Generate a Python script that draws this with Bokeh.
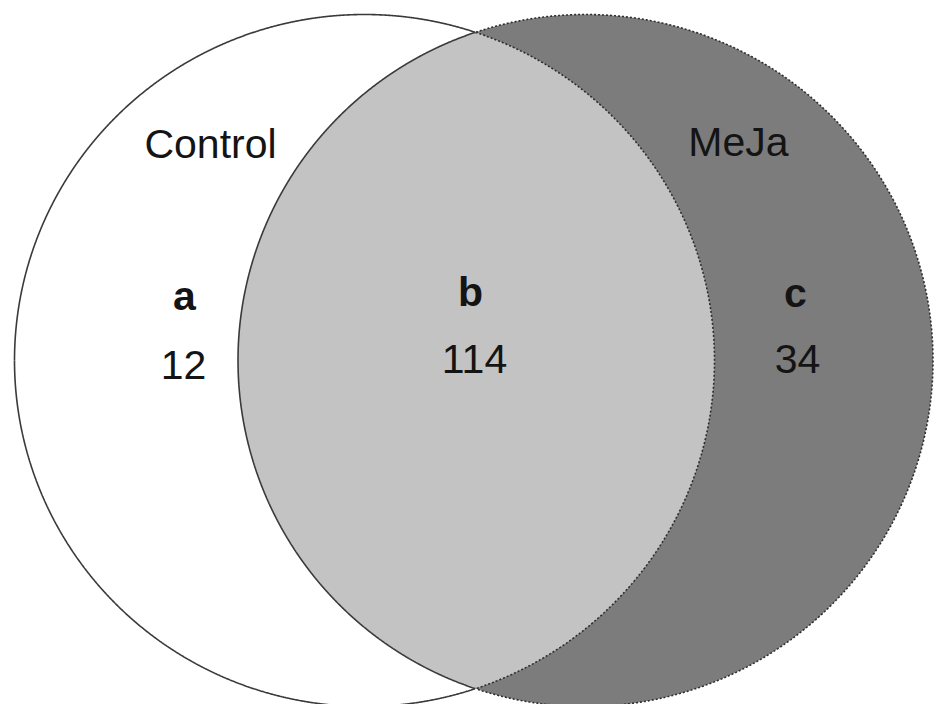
import numpy as np
from bokeh.plotting import figure
from bokeh.models import Range1d
from bokeh.core.properties import value
from bokeh.embed import file_html
from bokeh.resources import INLINE

# ---- data ----
set_names = ["Control", "MeJa"]
region_labels = ["a", "b", "c"]
region_counts = [12, 114, 34]

# ---- layout (screen-pixel coordinates, y downwards) ----
W, H = 935, 704
LEFT = dict(cx=364.0, cy=360.0, rx=350.0, ry=346.0)
RIGHT = dict(cx=585.0, cy=360.0, rx=347.5, ry=346.0)
name_pos = [(210, 143), (738, 141)]
label_pos = [(184, 295), (470, 291), (795, 292)]
count_pos = [(183, 364), (474, 358), (797, 358)]

FONT = "Liberation Sans"
FSIZE = "41px"
DARK = "#7c7c7c"
LIGHT = "#c3c3c3"
LINE = "#3a3a3a"

p = figure(width=W, height=H, x_range=Range1d(0, W), y_range=Range1d(H, 0),
           output_backend="svg", toolbar_location=None, min_border=0)
p.axis.visible = False
p.grid.visible = False
p.outline_line_color = None
p.background_fill_color = "white"
p.border_fill_color = "white"


def ellipse_pts(e, t):
    return e["cx"] + e["rx"] * np.cos(t), e["cy"] + e["ry"] * np.sin(t)


def inside(e, x, y):
    return ((x - e["cx"]) / e["rx"]) ** 2 + ((y - e["cy"]) / e["ry"]) ** 2 < 1.0


def runs(x, y, mask):
    xs, ys = [], []
    idx = np.flatnonzero(mask)
    if idx.size == 0:
        return xs, ys
    splits = np.flatnonzero(np.diff(idx) > 1) + 1
    for seg in np.split(idx, splits):
        xs.append(list(x[seg]))
        ys.append(list(y[seg]))
    return xs, ys


tl = np.linspace(-np.pi, np.pi, 2881)
tr = np.linspace(0, 2 * np.pi, 2881)
lx, ly = ellipse_pts(LEFT, tl)
rx, ry = ellipse_pts(RIGHT, tr)
l_in = inside(RIGHT, lx, ly)
r_in = inside(LEFT, rx, ry)

# fills
p.patch(list(rx), list(ry), fill_color=DARK, line_color=None)
lens_x = np.concatenate([lx[l_in], rx[r_in]])
lens_y = np.concatenate([ly[l_in], ry[r_in]])
p.patch(list(lens_x), list(lens_y), fill_color=LIGHT, line_color=None)

# outlines
xs, ys = runs(lx, ly, ~l_in)
p.multi_line(xs, ys, line_color=LINE, line_width=1.6)
xs, ys = runs(rx, ry, r_in)
p.multi_line(xs, ys, line_color=LINE, line_width=1.6)
xs, ys = runs(lx, ly, l_in)
p.multi_line(xs, ys, line_color="#2e2e2e", line_width=1.6, line_dash="2 2")
xs, ys = runs(rx, ry, ~r_in)
p.multi_line(xs, ys, line_color="#2e2e2e", line_width=1.6, line_dash="2 2")

# texts
p.text(x=[q[0] for q in name_pos], y=[q[1] for q in name_pos], text=set_names,
       text_font=value(FONT), text_font_size=FSIZE, text_align="center",
       text_baseline="alphabetic", text_color="#141414")
p.text(x=[q[0] for q in label_pos], y=[q[1] for q in label_pos], text=region_labels,
       text_font=value(FONT), text_font_size=FSIZE, text_font_style="bold",
       text_align="center", text_baseline="alphabetic", text_color="#141414")
p.text(x=[q[0] for q in count_pos], y=[q[1] for q in count_pos],
       text=[str(c) for c in region_counts],
       text_font=value(FONT), text_font_size=FSIZE, text_align="center",
       text_baseline="alphabetic", text_color="#141414")

open("out.html", "w").write(file_html(p, INLINE))
